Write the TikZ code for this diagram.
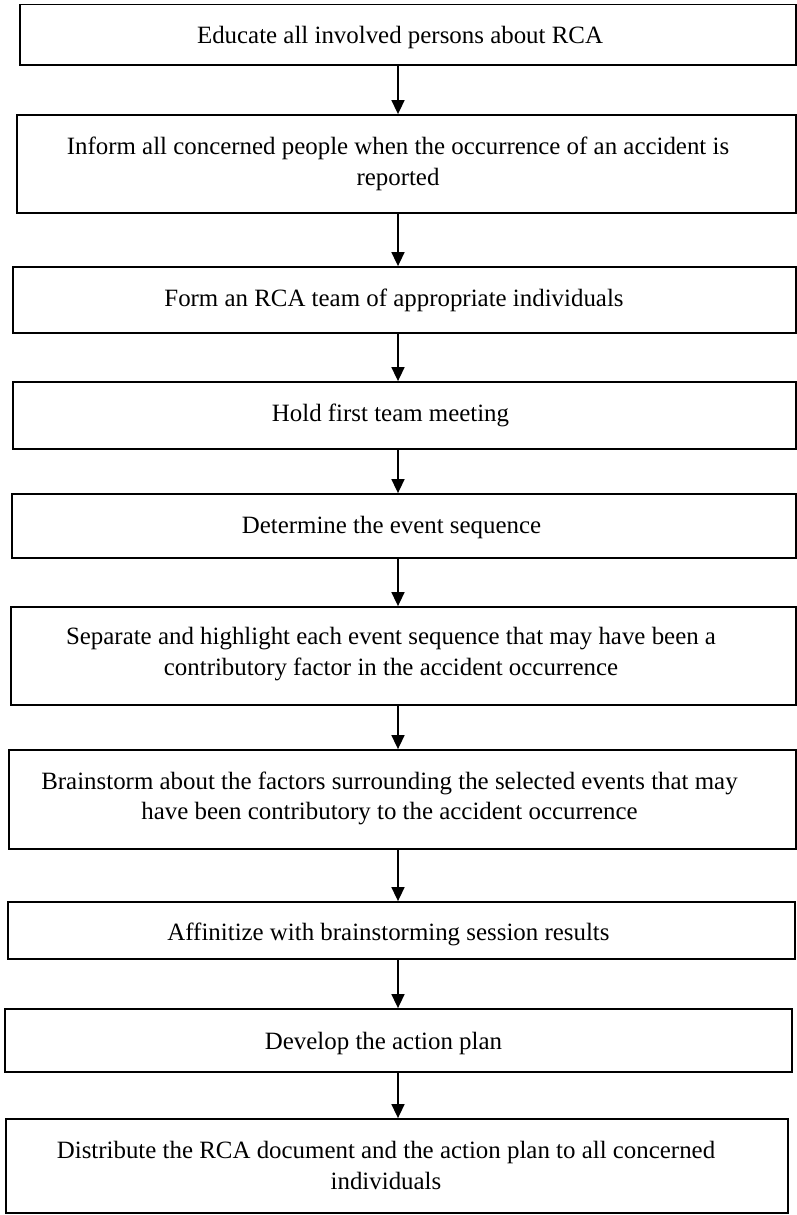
\documentclass[tikz,border=0pt]{standalone}
\usepackage{fontspec}
\setmainfont{Liberation Serif}
\usetikzlibrary{arrows.meta}
\begin{document}
\begin{tikzpicture}[x=1pt,y=-1pt,
  stepbox/.style={draw=black,line width=1.8pt,rectangle,inner sep=0pt},
  lbl/.style={font=\fontsize{24.9}{30.8}\selectfont,align=center,anchor=base,inner sep=0pt},
  arr/.style={draw=black,line width=1.6pt,-{Triangle[width=13pt,length=14pt]}}]
\useasboundingbox (0,0) rectangle (797,1215);
\newcommand{\mybox}[5]{\node[stepbox,minimum width={#4-#2},minimum height={#5-#3}] (#1) at ({(#2+#4)/2},{(#3+#5)/2}) {};}
\mybox{b1}{20}{4.5}{796}{65}
\mybox{b2}{17}{115}{796}{213}
\mybox{b3}{13}{267}{796}{333}
\mybox{b4}{13}{382}{796}{449}
\mybox{b5}{12}{494}{796}{558}
\mybox{b6}{11}{607}{796}{705}
\mybox{b7}{9}{750}{796}{849}
\mybox{b8}{8}{902}{795}{959}
\mybox{b9}{5}{1009}{792}{1072}
\mybox{b10}{6}{1119}{788}{1213}
\node[lbl] (t1) at (400,44) {Educate all involved persons about RCA};
\node[lbl] (t2) at (398,185) {Inform all concerned people when the occurrence of an accident is\\reported};
\node[lbl] (t3) at (394,306.7) {Form an RCA team of appropriate individuals};
\node[lbl] (t4) at (390.5,421.7) {Hold first team meeting};
\node[lbl] (t5) at (391.5,533.3) {Determine the event sequence};
\node[lbl] (t6) at (391,675.5) {Separate and highlight each event sequence that may have been a\\contributory factor in the accident occurrence};
\node[lbl] (t7) at (389.5,819.8) {Brainstorm about the factors surrounding the selected events that may\\have been contributory to the accident occurrence};
\node[lbl] (t8) at (388.5,940.7) {Affinitize with brainstorming session results};
\node[lbl] (t9) at (383.5,1049.3) {Develop the action plan};
\node[lbl] (t10) at (386,1189.3) {Distribute the RCA document and the action plan to all concerned\\individuals};
\coordinate (ax) at (398,0);
\foreach \a/\b in {b1/b2,b2/b3,b3/b4,b4/b5,b5/b6,b6/b7,b7/b8,b8/b9,b9/b10}
  \draw[arr] (\a.south -| ax) -- (\b.north -| ax);
\end{tikzpicture}
\end{document}
